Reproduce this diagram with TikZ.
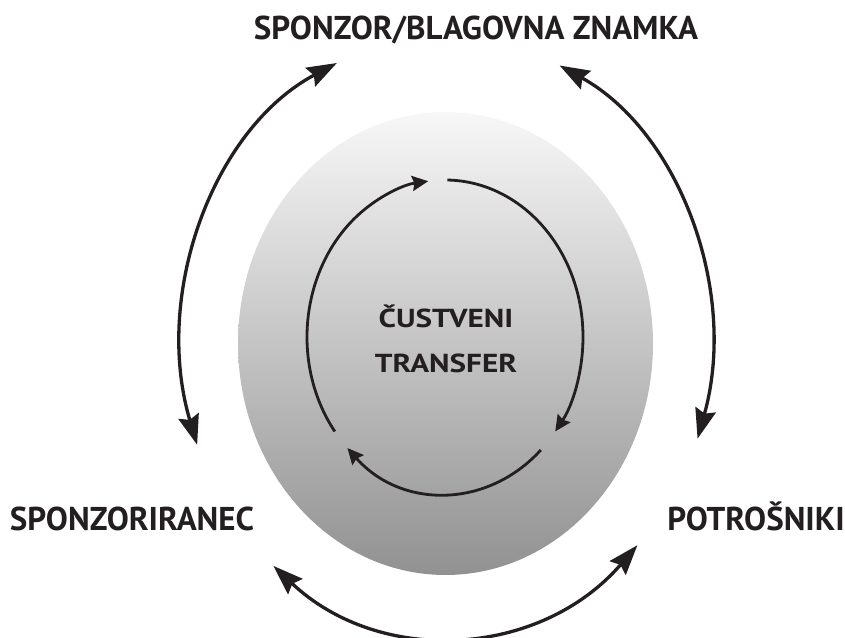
\documentclass[tikz,border=0pt]{standalone}
\usepackage{fontspec}
\setmainfont{PT Sans}
\usetikzlibrary{arrows.meta,shapes.geometric}
\definecolor{ink}{HTML}{231F20}
\begin{document}
\begin{tikzpicture}[x=1pt,y=1pt,
  lbl/.style={font=\bfseries\fontsize{33}{33}\selectfont, inner sep=0pt, anchor=base, text=ink},
  midlbl/.style={font=\bfseries\fontsize{26}{26}\selectfont, inner sep=0pt, anchor=base, text=ink},
  outerarc/.style={draw=ink, line width=3.3pt, {Stealth[length=30pt,width=21pt,inset=4pt]}-{Stealth[length=30pt,width=21pt,inset=4pt]}},
  innerarc/.style={draw=ink, line width=2.8pt, -{Stealth[length=16pt,width=15pt,inset=2pt]}}]
\useasboundingbox (0,0) rectangle (845,637);
\coordinate (c) at (445.5,293.5);
\coordinate (ci) at (445,300);
\node[ellipse, minimum width=415pt, minimum height=463pt, inner sep=0pt, top color=black!3, middle color=black!19, bottom color=black!43, draw=none] (core) at (c) {};
% labels
\node[lbl] (brand) at (476,597) {SPONZOR/BLAGOVNA ZNAMKA};
\node[lbl] (sponz) at (132,107) {SPONZORIRANEC};
\node[lbl] (cons) at (756,107) {POTROŠNIKI};
\node[midlbl] (t1) at (446,309) {\scalebox{1.2}[1]{ČUSTVENI}};
\node[midlbl] (t2) at (446,264) {\scalebox{1.2}[1]{TRANSFER}};
% outer arcs
\draw[outerarc] ([shift={(199.2:263 and 308)}]c) arc[start angle=199.2, end angle=114.4, x radius=263, y radius=308];
\draw[outerarc] ([shift={(64.5:265 and 308)}]c) arc[start angle=64.5, end angle=-18, x radius=265, y radius=308];
\draw[outerarc] ([shift={(229.5:265 and 292.5)}]c) arc[start angle=229.5, end angle=316.4, x radius=265, y radius=292.5];
% inner arcs
\draw[innerarc] ([shift={(217:138 and 157)}]ci) arc[start angle=217, end angle=97, x radius=138, y radius=157];
\draw[innerarc] ([shift={(89:138 and 157)}]ci) arc[start angle=89, end angle=-37, x radius=138, y radius=157];
\draw[innerarc] ([shift={(-46:138 and 157)}]ci) arc[start angle=-46, end angle=-135, x radius=138, y radius=157];
\end{tikzpicture}
\end{document}
